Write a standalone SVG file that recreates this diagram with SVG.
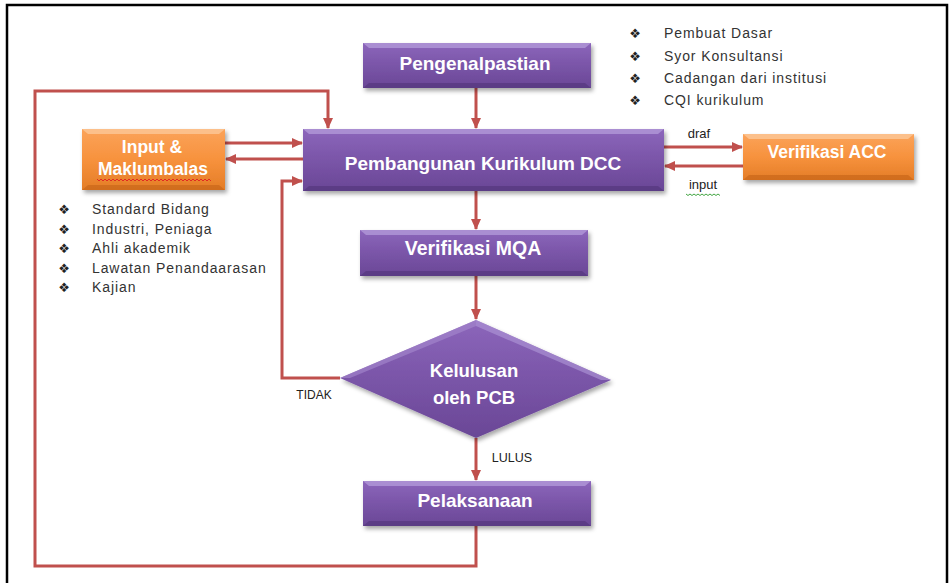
<svg xmlns="http://www.w3.org/2000/svg" width="950" height="583" viewBox="0 0 950 583">
<style>
.node-text{font-family:"Liberation Sans",Arial,sans-serif;font-weight:bold;fill:#fff;text-anchor:middle}
.lbl{font-family:"Liberation Sans",Arial,sans-serif;fill:#222}
.bul{font-family:"DejaVu Sans",sans-serif;fill:#222;font-size:13px;text-anchor:middle}
.item{font-family:"Liberation Sans",Arial,sans-serif;fill:#333;font-size:14px;letter-spacing:0.9px}
.conn{fill:none;stroke:#C0504D;stroke-width:3;stroke-linejoin:miter}
</style>
<defs>
<linearGradient id="gp" x1="0" y1="0" x2="0" y2="1">
<stop offset="0" stop-color="#8c66bb"/>
<stop offset="0.5" stop-color="#7a55a8"/>
<stop offset="1" stop-color="#6a4796"/>
</linearGradient>
<linearGradient id="go" x1="0" y1="0" x2="0" y2="1">
<stop offset="0" stop-color="#fba35a"/>
<stop offset="0.5" stop-color="#f7923d"/>
<stop offset="1" stop-color="#e47d27"/>
</linearGradient>
<filter id="sh" x="-10%" y="-20%" width="130%" height="160%">
<feDropShadow dx="2" dy="3" stdDeviation="2" flood-color="#000" flood-opacity="0.35"/>
</filter>
<marker id="ah" markerUnits="userSpaceOnUse" markerWidth="11" markerHeight="10" refX="10" refY="5" orient="auto">
<path d="M0,0 L11,5 L0,10 z" fill="#C0504D"/>
</marker>
</defs>
<rect width="950" height="583" fill="#fff"/>
<rect x="7" y="5" width="940" height="620" fill="none" stroke="#000" stroke-width="2.5"/>

<g id="connectors">
<path class="conn" d="M476,88 V128" marker-end="url(#ah)"/>
<path class="conn" d="M476,191 V229" marker-end="url(#ah)"/>
<path class="conn" d="M476,276 V319" marker-end="url(#ah)"/>
<path class="conn" d="M476,438 V480" marker-end="url(#ah)"/>
<path class="conn" d="M476,526 V566 H35 V91 H328 V128" marker-end="url(#ah)"/>
<path class="conn" d="M225,143 H302" marker-end="url(#ah)"/>
<path class="conn" d="M303,159 H226" marker-end="url(#ah)"/>
<path class="conn" d="M340,378 H282 V181 H302" marker-end="url(#ah)"/>
<path class="conn" d="M664,147 H742" marker-end="url(#ah)"/>
<path class="conn" d="M743,166 H665" marker-end="url(#ah)"/>
</g>

<g id="pengenalpastian">
<rect x="363" y="43" width="228" height="45" fill="url(#gp)" filter="url(#sh)"/>
<polygon points="363,43 591,43 585,48 369,48" fill="#b199d8" opacity="0.8"/>
<polygon points="363,88 591,88 585,83 369,83" fill="#56387e" opacity="0.7"/>
<text class="node-text" x="475" y="70" font-size="19">Pengenalpastian</text>
</g>

<g id="pembangunan">
<rect x="303" y="129" width="361" height="62" fill="url(#gp)" filter="url(#sh)"/>
<polygon points="303,129 664,129 658,134 309,134" fill="#b199d8" opacity="0.8"/>
<polygon points="303,191 664,191 658,186 309,186" fill="#56387e" opacity="0.7"/>
<text class="node-text" x="483" y="170" font-size="19">Pembangunan Kurikulum DCC</text>
</g>

<g id="input-maklumbalas">
<rect x="82" y="129" width="143" height="61" fill="url(#go)" filter="url(#sh)"/>
<polygon points="82,129 225,129 219,134 88,134" fill="#fcc594" opacity="0.85"/>
<polygon points="82,190 225,190 219,185 88,185" fill="#c9661a" opacity="0.7"/>
<text class="node-text" x="152" y="153" font-size="17.5">Input &amp;</text>
<text class="node-text" x="153" y="175" font-size="17.5">Maklumbalas</text>
<path d="M97,179 l2,2 l2,-2 l2,2 l2,-2 l2,2 l2,-2 l2,2 l2,-2 l2,2 l2,-2 l2,2 l2,-2 l2,2 l2,-2 l2,2 l2,-2 l2,2 l2,-2 l2,2 l2,-2 l2,2 l2,-2 l2,2 l2,-2 l2,2 l2,-2 l2,2 l2,-2 l2,2 l2,-2 l2,2 l2,-2 l2,2 l2,-2 l2,2 l2,-2 l2,2 l2,-2 l2,2 l2,-2 l2,2 l2,-2 l2,2 l2,-2 l2,2 l2,-2 l2,2 l2,-2 l2,2 l2,-2 l2,2 l2,-2 l2,2 l2,-2 l2,2 l2,-2 l2,2" fill="none" stroke="#e02020" stroke-width="0.9"/>
</g>

<g id="verifikasi-acc">
<rect x="743" y="134" width="171" height="46" fill="url(#go)" filter="url(#sh)"/>
<polygon points="743,134 914,134 908,139 749,139" fill="#fcc594" opacity="0.85"/>
<polygon points="743,180 914,180 908,175 749,175" fill="#c9661a" opacity="0.7"/>
<text class="node-text" x="827" y="158" font-size="17.5">Verifikasi ACC</text>
</g>

<g id="verifikasi-mqa">
<rect x="360" y="230" width="228" height="46" fill="url(#gp)" filter="url(#sh)"/>
<polygon points="360,230 588,230 582,235 366,235" fill="#b199d8" opacity="0.8"/>
<polygon points="360,276 588,276 582,271 366,271" fill="#56387e" opacity="0.7"/>
<text class="node-text" x="473" y="255" font-size="19.5">Verifikasi MQA</text>
</g>

<g id="kelulusan">
<polygon points="476,320 611,380 476,438 340,378" fill="url(#gp)" filter="url(#sh)"/>
<polygon points="476,320 611,380 601,380 476,326" fill="#b199d8" opacity="0.6"/>
<polygon points="476,320 340,378 350,378 476,326" fill="#a68bcf" opacity="0.6"/>
<text class="node-text" x="474" y="377" font-size="18.5">Kelulusan</text>
<text class="node-text" x="474" y="404" font-size="18.5">oleh PCB</text>
</g>

<g id="pelaksanaan">
<rect x="363" y="481" width="228" height="45" fill="url(#gp)" filter="url(#sh)"/>
<polygon points="363,481 591,481 585,486 369,486" fill="#b199d8" opacity="0.8"/>
<polygon points="363,526 591,526 585,521 369,521" fill="#56387e" opacity="0.7"/>
<text class="node-text" x="475" y="507" font-size="19">Pelaksanaan</text>
</g>

<g id="labels">
<text class="lbl" x="699" y="138" font-size="13" text-anchor="middle">draf</text>
<text class="lbl" x="703" y="189" font-size="13" text-anchor="middle">input</text>
<path d="M686,194 l2,1.5 l2,-1.5 l2,1.5 l2,-1.5 l2,1.5 l2,-1.5 l2,1.5 l2,-1.5 l2,1.5 l2,-1.5 l2,1.5 l2,-1.5 l2,1.5 l2,-1.5 l2,1.5 l2,-1.5 l2,1.5" fill="none" stroke="#2e9a2e" stroke-width="0.9"/>
<text class="lbl" x="314" y="399" font-size="12" text-anchor="middle">TIDAK</text>
<text class="lbl" x="512" y="462" font-size="12.5" text-anchor="middle">LULUS</text>
</g>

<g id="list-left">
<text class="bul" x="64" y="214">❖</text>
<text class="bul" x="64" y="234">❖</text>
<text class="bul" x="64" y="253">❖</text>
<text class="bul" x="64" y="273">❖</text>
<text class="bul" x="64" y="292">❖</text>
<text class="item" x="92" y="214">Standard Bidang</text>
<text class="item" x="92" y="234">Industri, Peniaga</text>
<text class="item" x="92" y="253">Ahli akademik</text>
<text class="item" x="92" y="273">Lawatan Penandaarasan</text>
<text class="item" x="92" y="292">Kajian</text>
</g>

<g id="list-right">
<text class="bul" x="635" y="38">❖</text>
<text class="bul" x="635" y="61">❖</text>
<text class="bul" x="635" y="83">❖</text>
<text class="bul" x="635" y="105">❖</text>
<text class="item" x="664" y="38">Pembuat Dasar</text>
<text class="item" x="664" y="61">Syor Konsultansi</text>
<text class="item" x="664" y="83">Cadangan dari institusi</text>
<text class="item" x="664" y="105">CQI kurikulum</text>
</g>
</svg>
